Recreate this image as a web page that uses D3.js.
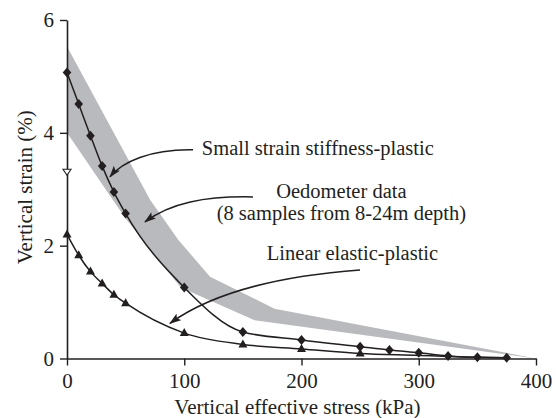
<!DOCTYPE html>
<html>
<head>
<meta charset="utf-8">
<script src="https://cdn.jsdelivr.net/npm/d3@7"></script>
<style>
  html, body { margin: 0; padding: 0; background: #fff; }
  svg { display: block; font-family: "Liberation Serif", "Times New Roman", serif; }
</style>
</head>
<body>
<svg id="chart" width="556" height="418"></svg>
<script>
// Vertical effective stress (kPa)
const stressSSS = [0, 10, 20, 30, 40, 50, 100, 150, 200, 250, 275, 300, 325, 350, 375];
// Small strain stiffness-plastic model, vertical strain (%)
const strainSSS = [5.07, 4.51, 3.95, 3.41, 2.95, 2.57, 1.26, 0.47, 0.33, 0.21, 0.15, 0.10, 0.045, 0.02, 0.015];

const stressLEP = [0, 10, 20, 30, 40, 50, 100, 150, 200, 250];
// Linear elastic-plastic model, vertical strain (%)
const strainLEP = [2.2, 1.83, 1.54, 1.33, 1.13, 0.98, 0.45, 0.25, 0.17, 0.09];
// continuation of the linear elastic-plastic curve beyond the last marker
const stressLEPTail = [300, 325, 350, 375];
const strainLEPTail = [0.055, 0.035, 0.02, 0.015];

// Oedometer envelope (8 samples from 8-24 m depth)
const oedUpperStress = [0, 71, 95, 122, 177, 400];
const oedUpperStrain = [5.53, 2.81, 2.10, 1.45, 0.88, 0];
const oedLowerStress = [0, 50, 97, 160, 400];
const oedLowerStrain = [4.0, 2.48, 1.26, 0.68, 0];

// Single open-triangle reading at zero stress
const openStress = [0];
const openStrain = [3.31];

const xTicks = [0, 100, 200, 300, 400];
const yTicks = [0, 2, 4, 6];

const ink = "#231f20";
const bandFill = "#b9babd";

const svg = d3.select("#chart");
const x = d3.scaleLinear().domain([0, 400]).range([67, 536]);
const y = d3.scaleLinear().domain([0, 6]).range([358.5, 20]);

// Oedometer band
const bandPts = oedUpperStress.map((s, i) => [s, oedUpperStrain[i]])
  .concat(oedLowerStress.map((s, i) => [s, oedLowerStrain[i]]).reverse());
svg.append("path")
  .attr("d", d3.line().x(d => x(d[0])).y(d => y(d[1])).curve(d3.curveLinearClosed)(bandPts))
  .attr("fill", bandFill)
  .attr("stroke", "none");

// Axes
const yAxis = svg.append("g")
  .attr("transform", `translate(${x(0)},0)`)
  .call(d3.axisLeft(y).tickValues(yTicks).tickFormat(d3.format("d")).tickSize(7).tickSizeOuter(0).tickPadding(6));
const xAxis = svg.append("g")
  .attr("transform", `translate(0,${y(0)})`)
  .call(d3.axisBottom(x).tickValues(xTicks).tickFormat(d3.format("d")).tickSize(7).tickSizeOuter(0).tickPadding(8));
[xAxis, yAxis].forEach(g => {
  g.select(".domain").attr("stroke", ink).attr("stroke-width", 1.6);
  g.selectAll(".tick line").attr("stroke", ink).attr("stroke-width", 1.4);
  g.selectAll(".tick text").attr("fill", ink).style("font-size", "21px")
    .style("font-family", "'Liberation Serif', 'Times New Roman', serif");
});

// Curves
const line = d3.line().x(d => x(d[0])).y(d => y(d[1])).curve(d3.curveMonotoneX);
const sss = stressSSS.map((s, i) => [s, strainSSS[i]]);
const lep = stressLEP.map((s, i) => [s, strainLEP[i]]);
const lepFull = lep.concat(stressLEPTail.map((s, i) => [s, strainLEPTail[i]]));

svg.append("path").attr("d", line(lepFull))
  .attr("fill", "none").attr("stroke", ink).attr("stroke-width", 1.5);
svg.append("path").attr("d", line(sss))
  .attr("fill", "none").attr("stroke", ink).attr("stroke-width", 1.5);

// Markers
const diamond = "M0,-5 L4.3,0 L0,5 L-4.3,0 Z";
svg.append("g").selectAll("path").data(sss).join("path")
  .attr("d", diamond)
  .attr("transform", d => `translate(${x(d[0])},${y(d[1])})`)
  .attr("fill", ink);

const tri = "M0,-5 L4.5,3 L-4.5,3 Z";
svg.append("g").selectAll("path").data(lep).join("path")
  .attr("d", tri)
  .attr("transform", d => `translate(${x(d[0])},${y(d[1])})`)
  .attr("fill", ink);

const openTri = "M-4,-2.5 L4,-2.5 L0,3.5 Z";
svg.append("g").selectAll("path").data(openStress.map((s, i) => [s, openStrain[i]])).join("path")
  .attr("d", openTri)
  .attr("transform", d => `translate(${x(d[0])},${y(d[1])})`)
  .attr("fill", "#fff").attr("stroke", ink).attr("stroke-width", 1.1);

// Arrowhead
svg.append("defs").append("marker")
  .attr("id", "head")
  .attr("viewBox", "0 0 12 8")
  .attr("refX", 11).attr("refY", 4)
  .attr("markerWidth", 12).attr("markerHeight", 8)
  .attr("markerUnits", "userSpaceOnUse")
  .attr("orient", "auto")
  .append("path").attr("d", "M0,0 L12,4 L0,8 L2.5,4 Z").attr("fill", ink);

// Annotation leaders (points given in stress / strain units)
function leader(pts) {
  const p = pts.map(d => [x(d[0]), y(d[1])]);
  const path = d3.path();
  path.moveTo(p[0][0], p[0][1]);
  path.bezierCurveTo(p[1][0], p[1][1], p[2][0], p[2][1], p[3][0], p[3][1]);
  svg.append("path").attr("d", path.toString())
    .attr("fill", "none").attr("stroke", ink).attr("stroke-width", 1.5)
    .attr("marker-end", "url(#head)");
}
leader([[107.5, 3.70], [70.8, 3.713], [46.9, 3.484], [36.7, 3.22]]);
leader([[158.6, 2.864], [117.7, 2.881], [87.8, 2.757], [66.5, 2.420]]);
leader([[249.9, 1.569], [168.9, 1.445], [117.7, 1.072], [87.8, 0.624]]);

// Annotation labels
const labels = [
  { t: "Small strain stiffness-plastic", sx: 115, sy: 3.607, anchor: "start" },
  { t: "Oedometer data", sx: 234, sy: 2.846, anchor: "middle" },
  { t: "(8 samples from 8-24m depth)", sx: 234, sy: 2.46, anchor: "middle" },
  { t: "Linear elastic-plastic", sx: 243.5, sy: 1.745, anchor: "middle" }
];
svg.append("g").selectAll("text").data(labels).join("text")
  .attr("x", d => x(d.sx)).attr("y", d => y(d.sy))
  .attr("text-anchor", d => d.anchor)
  .attr("fill", ink)
  .style("font-size", "20.5px")
  .text(d => d.t);

// Axis titles
svg.append("text")
  .attr("x", (x(0) + x(400)) / 2 - 4).attr("y", 414)
  .attr("text-anchor", "middle").attr("fill", ink)
  .style("font-size", "21px")
  .text("Vertical effective stress (kPa)");
svg.append("text")
  .attr("transform", `translate(32,${y(3) - 2})rotate(-90)`)
  .attr("text-anchor", "middle").attr("fill", ink)
  .style("font-size", "21px")
  .text("Vertical strain (%)");
</script>
</body>
</html>
